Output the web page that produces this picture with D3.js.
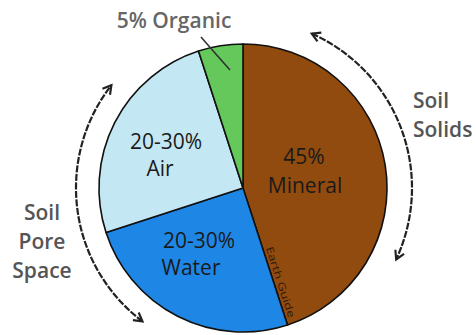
<!DOCTYPE html>
<html>
<head>
<meta charset="utf-8">
<script src="https://cdn.jsdelivr.net/npm/d3@7"></script>
<style>
  html, body { margin: 0; padding: 0; background: #fff; }
  svg { display: block; }
  text { font-family: "Open Sans", "Noto Sans", sans-serif; }
</style>
</head>
<body>
<svg id="chart" width="476" height="335"></svg>
<script>
// Soil composition by volume
const components = ["Mineral", "Water", "Air", "Organic"];
const shares = [45, 25, 25, 5];
const shareLabels = ["45%", "20-30%", "20-30%", "5%"];
const colors = ["#924b0e", "#1e87e6", "#c4e8f3", "#64c85b"];

const svg = d3.select("#chart");
const cx = 243, cy = 188, r = 144;

const pie = d3.pie().sort(null).startAngle(0).endAngle(2 * Math.PI);
const arcs = pie(shares);
const arc = d3.arc().innerRadius(0).outerRadius(r);

const g = svg.append("g").attr("transform", `translate(${cx},${cy})`);

g.selectAll("path.slice")
  .data(arcs)
  .join("path")
  .attr("class", "slice")
  .attr("d", arc)
  .attr("fill", (d, i) => colors[i])
  .attr("stroke", "#111")
  .attr("stroke-width", 1.6)
  .attr("stroke-linejoin", "round");

// In-slice labels (Mineral, Water, Air)
const inner = [
  { i: 0, lines: [[shareLabels[0], 61, -24], [components[0], 62, 5]] },
  { i: 1, lines: [[shareLabels[1], -44, 60], [components[1], -52, 87]] },
  { i: 2, lines: [[shareLabels[2], -77, -39], [components[2], -83, -12]] }
];
inner.forEach(s => {
  s.lines.forEach(([t, x, y]) => {
    g.append("text")
      .attr("x", x).attr("y", y)
      .attr("text-anchor", "middle")
      .attr("font-size", 21)
      .attr("fill", "#1a1a1a")
      .text(t);
  });
});

// Small credit along the mineral/water edge
const edge = arcs[0].endAngle;
const ex = Math.sin(edge), ey = -Math.cos(edge);
const nx = -ey, ny = ex; // unit normal pointing into the mineral slice side
g.append("text")
  .attr("transform", `translate(${ex * 64 - nx * 3},${ey * 64 - ny * 3}) rotate(${edge * 180 / Math.PI - 90})`)
  .attr("font-size", 10)
  .attr("textLength", 74)
  .attr("lengthAdjust", "spacingAndGlyphs")
  .attr("fill", "#2a1a08")
  .text("Earth Guide");

// Organic label and its leader line
svg.append("text")
  .attr("x", 174).attr("y", 28)
  .attr("text-anchor", "middle")
  .attr("font-size", 21)
  .attr("font-weight", 600)
  .attr("fill", "#666")
  .text(shareLabels[3] + " " + components[3]);
svg.append("path")
  .attr("d", "M201,37 Q214,52 230,70")
  .attr("fill", "none")
  .attr("stroke", "#333")
  .attr("stroke-width", 1.6);

// Double-headed curved arrows grouping the components
const deg = Math.PI / 180;
svg.append("defs").append("marker")
  .attr("id", "head")
  .attr("viewBox", "0 0 10 10")
  .attr("refX", 8).attr("refY", 5)
  .attr("markerWidth", 12).attr("markerHeight", 12)
  .attr("orient", "auto-start-reverse")
  .attr("markerUnits", "userSpaceOnUse")
  .append("path")
  .attr("d", "M1,1 L8,5 L1,9")
  .attr("fill", "none")
  .attr("stroke", "#222")
  .attr("stroke-width", 1.8);

function arcPath(a0, a1, R) {
  const p0 = [cx + R * Math.sin(a0), cy - R * Math.cos(a0)];
  const p1 = [cx + R * Math.sin(a1), cy - R * Math.cos(a1)];
  const sweep = a1 > a0 ? 1 : 0;
  return `M${p0[0]},${p0[1]} A${R},${R} 0 0 ${sweep} ${p1[0]},${p1[1]}`;
}
[[24 * deg, 115 * deg, 169], [217 * deg, 308 * deg, 167]].forEach(([a0, a1, R]) => {
  svg.append("path")
    .attr("d", arcPath(a0, a1, R))
    .attr("fill", "none")
    .attr("stroke", "#222")
    .attr("stroke-width", 2.2)
    .attr("stroke-dasharray", "7 1.5")
    .attr("marker-start", "url(#head)")
    .attr("marker-end", "url(#head)");
});

// Group labels
const groups = [
  { lines: ["Soil", "Solids"], x: 413, y0: 108, anchor: "start" },
  { lines: ["Soil", "Pore", "Space"], x: 42, y0: 220, anchor: "middle" }
];
groups.forEach(gr => {
  gr.lines.forEach((t, k) => {
    svg.append("text")
      .attr("x", gr.x).attr("y", gr.y0 + k * 29)
      .attr("text-anchor", gr.anchor)
      .attr("font-size", 21)
      .attr("font-weight", 600)
      .attr("fill", "#555")
      .text(t);
  });
});
</script>
</body>
</html>
